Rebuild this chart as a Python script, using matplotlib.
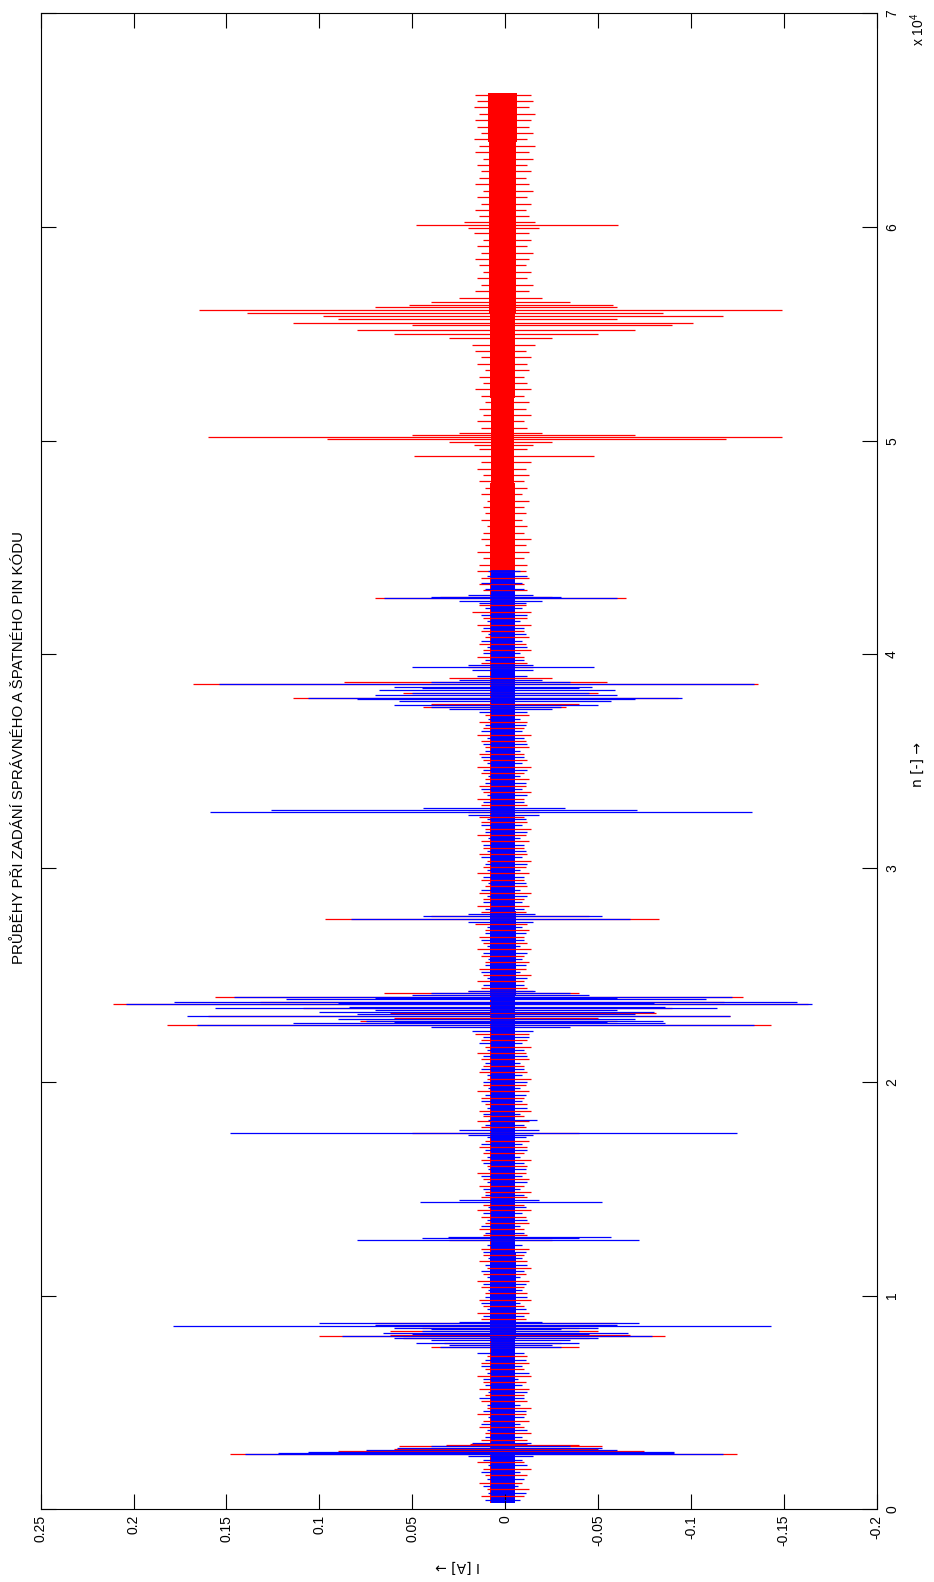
import matplotlib
matplotlib.use("Agg")
import matplotlib.pyplot as plt

plt.rcParams["font.family"] = ["Liberation Sans", "DejaVu Sans"]
plt.rcParams["mathtext.default"] = "regular"

RED = "#ff0000"
BLUE = "#0000ff"

# axis ticks
i_ticks = [0.25, 0.2, 0.15, 0.1, 0.05, 0.0, -0.05, -0.1, -0.15, -0.2]
i_tick_labels = ["0.25", "0.2", "0.15", "0.1", "0.05", "0", "-0.05", "-0.1", "-0.15", "-0.2"]
n_ticks = [0, 10000, 20000, 30000, 40000, 50000, 60000, 70000]
n_tick_labels = ["0", "1", "2", "3", "4", "5", "6", "7"]

# solid core of each trace: knots along n with the upper / lower edge in A
blue_core_n = [300, 4000, 8000, 12000, 16000, 20000, 24000, 28000, 32000, 36000, 40000, 43950]
blue_core_hi = [0.0075, 0.0075, 0.008, 0.0075, 0.0075, 0.0075, 0.008, 0.0075, 0.0075, 0.0075, 0.0075, 0.0075]
blue_core_lo = [-0.0055, -0.0055, -0.006, -0.0055, -0.0055, -0.0055, -0.006, -0.0055, -0.0055, -0.0055, -0.0055, -0.0055]

red_core_n = [300, 8000, 16000, 24000, 32000, 40000, 44000, 48000, 52000, 56000, 60000, 64000, 66270]
red_core_hi = [0.008, 0.008, 0.008, 0.008, 0.008, 0.008, 0.008, 0.0075, 0.008, 0.0085, 0.0085, 0.009, 0.009]
red_core_lo = [-0.0055, -0.0055, -0.0055, -0.0055, -0.0055, -0.0055, -0.0055, -0.005, -0.0055, -0.006, -0.006, -0.0065, -0.0065]

# single swings of the correct-PIN record (blue): sample, max, min
blue_swing_n = [
    450, 780, 1100, 1400, 1750, 2050, 2300,
    2480, 2586, 2640, 2700, 2760, 2850, 2960, 3080,
    3400, 3700, 4000, 4300, 4600, 4900, 5200, 5500, 5800, 6100, 6400, 6700, 7000, 7300,
    7580, 7700, 7796, 7900, 8000, 8108, 8200, 8264, 8342, 8420, 8467, 8576, 8640, 8701, 8780,
    9050, 9350, 9650, 9950, 10250, 10550, 10850, 11150, 11450, 11750, 12050, 12350,
    12601, 12680, 12726,
    12950, 13250, 13550, 13850, 14150,
    14380, 14470,
    14700, 15000, 15300, 15600, 15900, 16200, 16500, 16800, 17100, 17400,
    17520, 17624, 17750,
    18000, 18217, 18500, 18800, 19100, 19400, 19700, 20000, 20300, 20600, 20900, 21200, 21500, 21800, 22100, 22400,
    22585, 22663, 22741, 22800, 22866, 22950, 23084, 23170, 23256, 23350, 23443, 23521, 23630, 23700, 23755,
    23861, 23930, 23986, 24060, 24142, 24250,
    24550, 24850, 25150, 25450, 25750, 26050, 26350, 26650, 26950, 27250,
    27500, 27605, 27761, 27850,
    28100, 28400, 28700, 29000, 29300, 29600, 29900, 30200, 30500, 30800, 31100, 31400, 31700, 32000, 32300,
    32500, 32613, 32722, 32800,
    33100, 33400, 33700, 34000, 34300, 34600, 34900, 35200, 35500, 35800, 36100, 36400, 36700, 37000, 37300,
    37450, 37558, 37650, 37823, 37900, 37979, 38080, 38200, 38338, 38420, 38494, 38619, 38700, 38800, 39000,
    39250, 39399, 39500,
    39750, 40050, 40350, 40650, 40950, 41250, 41550, 41850, 42150, 42400,
    42520, 42628, 42700, 42780,
    43050, 43350, 43650, 43900,
]
blue_swing_hi = [
    0.011, 0.009, 0.012, 0.010, 0.013, 0.009, 0.012,
    0.020, 0.140, 0.122, 0.106, 0.075, 0.058, 0.040, 0.018,
    0.011, 0.010, 0.013, 0.009, 0.012, 0.010, 0.014, 0.009, 0.011, 0.012, 0.010, 0.013, 0.011, 0.015,
    0.035, 0.030, 0.048, 0.040, 0.060, 0.088, 0.050, 0.066, 0.045, 0.040, 0.060, 0.179, 0.070, 0.100, 0.025,
    0.012, 0.010, 0.013, 0.011, 0.009, 0.012, 0.010, 0.013, 0.011, 0.009, 0.012, 0.010,
    0.080, 0.045, 0.031,
    0.011, 0.013, 0.010, 0.012, 0.009,
    0.046, 0.025,
    0.011, 0.012, 0.010, 0.013, 0.009, 0.012, 0.010, 0.011, 0.013, 0.010,
    0.020, 0.148, 0.025,
    0.011, 0.009, 0.012, 0.010, 0.013, 0.011, 0.009, 0.012, 0.010, 0.013, 0.011, 0.012, 0.010, 0.014, 0.012, 0.018,
    0.040, 0.166, 0.114, 0.060, 0.075, 0.090, 0.171, 0.080, 0.100, 0.070, 0.156, 0.084, 0.204, 0.090, 0.178,
    0.118, 0.070, 0.146, 0.050, 0.040, 0.020,
    0.012, 0.010, 0.013, 0.011, 0.009, 0.012, 0.010, 0.013, 0.011, 0.010,
    0.020, 0.083, 0.044, 0.020,
    0.011, 0.012, 0.010, 0.013, 0.009, 0.012, 0.010, 0.011, 0.013, 0.010, 0.012, 0.009, 0.011, 0.013, 0.010,
    0.020, 0.159, 0.126, 0.044,
    0.012, 0.010, 0.013, 0.011, 0.009, 0.012, 0.010, 0.013, 0.011, 0.012, 0.010, 0.013, 0.011, 0.009, 0.014,
    0.030, 0.040, 0.060, 0.057, 0.080, 0.106, 0.070, 0.050, 0.068, 0.045, 0.060, 0.154, 0.040, 0.025, 0.015,
    0.018, 0.050, 0.020,
    0.011, 0.012, 0.010, 0.013, 0.009, 0.012, 0.010, 0.013, 0.011, 0.014,
    0.025, 0.065, 0.040, 0.020,
    0.011, 0.013, 0.010, 0.009,
]
blue_swing_lo = [
    -0.008, -0.011, -0.007, -0.010, -0.008, -0.012, -0.009,
    -0.015, -0.117, -0.091, -0.091, -0.060, -0.052, -0.035, -0.014,
    -0.009, -0.012, -0.008, -0.010, -0.011, -0.008, -0.010, -0.012, -0.009, -0.007, -0.013, -0.009, -0.011, -0.010,
    -0.030, -0.025, -0.040, -0.035, -0.050, -0.079, -0.045, -0.066, -0.040, -0.030, -0.050, -0.143, -0.060, -0.072, -0.020,
    -0.010, -0.011, -0.008, -0.012, -0.009, -0.011, -0.008, -0.010, -0.012, -0.009, -0.011, -0.009,
    -0.072, -0.040, -0.057,
    -0.010, -0.008, -0.012, -0.009, -0.011,
    -0.052, -0.018,
    -0.010, -0.008, -0.012, -0.009, -0.011, -0.010, -0.008, -0.012, -0.009, -0.011,
    -0.015, -0.125, -0.018,
    -0.010, -0.017, -0.008, -0.012, -0.009, -0.011, -0.008, -0.012, -0.009, -0.010, -0.008, -0.012, -0.010, -0.009, -0.013, -0.015,
    -0.035, -0.134, -0.086, -0.055, -0.085, -0.070, -0.121, -0.070, -0.080, -0.060, -0.114, -0.086, -0.165, -0.080, -0.157,
    -0.108, -0.060, -0.122, -0.045, -0.035, -0.016,
    -0.010, -0.012, -0.008, -0.011, -0.009, -0.012, -0.008, -0.010, -0.011, -0.009,
    -0.015, -0.067, -0.052, -0.016,
    -0.010, -0.009, -0.012, -0.008, -0.011, -0.010, -0.008, -0.012, -0.009, -0.011, -0.010, -0.008, -0.012, -0.009, -0.011,
    -0.018, -0.133, -0.071, -0.032,
    -0.010, -0.012, -0.009, -0.011, -0.008, -0.012, -0.009, -0.010, -0.008, -0.012, -0.010, -0.009, -0.011, -0.008, -0.012,
    -0.025, -0.030, -0.050, -0.057, -0.070, -0.095, -0.060, -0.045, -0.059, -0.040, -0.047, -0.134, -0.035, -0.020, -0.012,
    -0.015, -0.048, -0.015,
    -0.010, -0.008, -0.012, -0.009, -0.011, -0.010, -0.008, -0.012, -0.009, -0.011,
    -0.020, -0.060, -0.030, -0.015,
    -0.010, -0.009, -0.012, -0.008,
]

# single swings of the wrong-PIN record (red): sample, max, min
red_swing_n = [
    600, 950, 1250, 1600, 1900, 2200,
    2586, 2650, 2720, 2800, 2960, 3000, 3050,
    3250, 3550, 3850, 4150, 4450, 4750, 5050, 5350, 5650, 5950, 6250, 6550, 6850, 7150,
    7578, 7796, 8000, 8108, 8150, 8342, 8500, 8600, 8701,
    8900, 9200, 9500, 9800, 10100, 10400, 10700, 11000, 11300, 11600, 11900, 12200,
    12620,
    12850, 13100, 13400, 13700, 14000, 14250,
    14600, 14850, 15150, 15450, 15750, 16050, 16350, 16650, 16950, 17250,
    17610,
    17900, 18150, 18400, 18650, 18950, 19250, 19550, 19850, 20150, 20450, 20750, 21050, 21350, 21650, 21950, 22250,
    22663, 22866, 23000, 23084, 23200, 23443, 23630, 23755, 23986, 24142, 24250,
    24400, 24700, 25000, 25300, 25600, 25900, 26200, 26500, 26800, 27100, 27400,
    27605, 27761,
    27950, 28250, 28550, 28850, 29150, 29450, 29750, 30050, 30350, 30650, 30950, 31250, 31550, 31850, 32150, 32400,
    32650,
    32950, 33250, 33550, 33850, 34150, 34450, 34750, 35050, 35350, 35650, 35950, 36250, 36550, 36850, 37150,
    37558, 37700, 37979, 38200, 38619, 38728, 38900, 39400,
    39600, 39900, 40200, 40500, 40800, 41100, 41400, 41700, 42004, 42300,
    42628, 42700,
    43018, 43300, 43600, 43900,
    44200, 44500, 44800, 45100, 45400, 45700, 46000, 46300, 46600, 46900, 47200, 47500, 47800, 48100, 48400,
    48700, 49000, 49300, 49600, 49800,
    49950, 50100, 50192, 50260, 50350,
    50600, 50900, 51200, 51500, 51800, 52100, 52400, 52700, 53000, 53300, 53600, 53900, 54200, 54500,
    54800, 55000, 55200, 55400, 55529, 55700, 55857, 56000, 56140, 56250, 56329, 56500, 56700,
    57000, 57300, 57600, 57900, 58200, 58500, 58800, 59100, 59400, 59700, 59950,
    60103, 60250,
    60500, 60800, 61100, 61400, 61700, 62000, 62300, 62600, 62900, 63200, 63500, 63800, 64100, 64400, 64700,
    65000, 65300, 65600, 65900, 66200,
]
red_swing_hi = [
    0.013, 0.010, 0.014, 0.011, 0.012, 0.015,
    0.148, 0.100, 0.090, 0.060, 0.057, 0.032, 0.019,
    0.013, 0.011, 0.014, 0.012, 0.015, 0.010, 0.013, 0.011, 0.014, 0.012, 0.015, 0.011, 0.013, 0.010,
    0.040, 0.033, 0.055, 0.100, 0.062, 0.062, 0.045, 0.060, 0.070,
    0.013, 0.015, 0.012, 0.014, 0.011, 0.013, 0.015, 0.012, 0.010, 0.014, 0.012, 0.013,
    0.030,
    0.012, 0.014, 0.011, 0.013, 0.015, 0.012,
    0.013, 0.011, 0.014, 0.012, 0.015, 0.010, 0.013, 0.012, 0.014, 0.011,
    0.050,
    0.013, 0.015, 0.012, 0.014, 0.011, 0.013, 0.015, 0.012, 0.010, 0.014, 0.012, 0.013, 0.015, 0.011, 0.013, 0.016,
    0.182, 0.078, 0.060, 0.160, 0.062, 0.109, 0.211, 0.132, 0.156, 0.065, 0.020,
    0.013, 0.015, 0.012, 0.014, 0.011, 0.013, 0.015, 0.012, 0.014, 0.011, 0.016,
    0.097, 0.040,
    0.013, 0.015, 0.012, 0.014, 0.011, 0.013, 0.015, 0.012, 0.010, 0.014, 0.012, 0.013, 0.015, 0.011, 0.013, 0.014,
    0.020,
    0.013, 0.015, 0.012, 0.014, 0.011, 0.013, 0.015, 0.012, 0.014, 0.011, 0.013, 0.015, 0.012, 0.014, 0.011,
    0.044, 0.040, 0.114, 0.055, 0.168, 0.087, 0.030, 0.020,
    0.013, 0.015, 0.012, 0.014, 0.011, 0.013, 0.015, 0.012, 0.018, 0.014,
    0.070, 0.035,
    0.012, 0.014, 0.013, 0.015,
    0.014, 0.012, 0.015, 0.011, 0.013, 0.012, 0.010, 0.013, 0.011, 0.012, 0.010, 0.013, 0.011, 0.014, 0.012,
    0.015, 0.013, 0.049, 0.014, 0.017,
    0.030, 0.096, 0.160, 0.050, 0.025,
    0.013, 0.015, 0.012, 0.014, 0.011, 0.013, 0.016, 0.012, 0.014, 0.011, 0.015, 0.013, 0.016, 0.018,
    0.030, 0.060, 0.080, 0.050, 0.114, 0.090, 0.098, 0.139, 0.165, 0.070, 0.052, 0.040, 0.025,
    0.016, 0.013, 0.015, 0.012, 0.014, 0.016, 0.013, 0.015, 0.012, 0.017, 0.020,
    0.048, 0.022,
    0.014, 0.016, 0.013, 0.015, 0.012, 0.016, 0.014, 0.013, 0.015, 0.012, 0.016, 0.014, 0.017, 0.013, 0.015,
    0.016, 0.014, 0.017, 0.015, 0.016,
]
red_swing_lo = [
    -0.010, -0.013, -0.009, -0.012, -0.014, -0.010,
    -0.125, -0.080, -0.075, -0.050, -0.052, -0.040, -0.012,
    -0.012, -0.014, -0.010, -0.013, -0.011, -0.014, -0.012, -0.010, -0.013, -0.011, -0.014, -0.010, -0.013, -0.012,
    -0.040, -0.030, -0.045, -0.086, -0.067, -0.050, -0.040, -0.050, -0.060,
    -0.011, -0.013, -0.010, -0.014, -0.012, -0.010, -0.013, -0.011, -0.014, -0.012, -0.010, -0.013,
    -0.025,
    -0.012, -0.010, -0.013, -0.011, -0.014, -0.010,
    -0.012, -0.014, -0.010, -0.013, -0.011, -0.012, -0.014, -0.010, -0.012, -0.013,
    -0.040,
    -0.011, -0.013, -0.010, -0.014, -0.012, -0.010, -0.013, -0.011, -0.014, -0.012, -0.010, -0.013, -0.011, -0.014, -0.012, -0.013,
    -0.143, -0.060, -0.050, -0.121, -0.081, -0.090, -0.163, -0.118, -0.128, -0.040, -0.015,
    -0.012, -0.010, -0.014, -0.011, -0.013, -0.010, -0.014, -0.012, -0.010, -0.013, -0.012,
    -0.083, -0.045,
    -0.011, -0.013, -0.010, -0.014, -0.012, -0.010, -0.013, -0.011, -0.014, -0.012, -0.010, -0.013, -0.011, -0.014, -0.012, -0.010,
    -0.018,
    -0.012, -0.010, -0.014, -0.011, -0.013, -0.010, -0.014, -0.012, -0.010, -0.013, -0.011, -0.014, -0.010, -0.012, -0.013,
    -0.033, -0.040, -0.093, -0.050, -0.136, -0.055, -0.025, -0.015,
    -0.012, -0.010, -0.014, -0.011, -0.013, -0.010, -0.014, -0.012, -0.014, -0.011,
    -0.065, -0.025,
    -0.012, -0.010, -0.013, -0.011,
    -0.012, -0.010, -0.013, -0.011, -0.014, -0.010, -0.012, -0.009, -0.011, -0.010, -0.013, -0.009, -0.012, -0.010, -0.013,
    -0.011, -0.014, -0.048, -0.012, -0.015,
    -0.025, -0.119, -0.149, -0.070, -0.020,
    -0.012, -0.010, -0.014, -0.011, -0.013, -0.010, -0.014, -0.012, -0.010, -0.013, -0.012, -0.014, -0.011, -0.016,
    -0.025, -0.050, -0.070, -0.090, -0.101, -0.060, -0.117, -0.085, -0.149, -0.060, -0.058, -0.035, -0.020,
    -0.013, -0.015, -0.012, -0.014, -0.011, -0.013, -0.015, -0.012, -0.014, -0.013, -0.018,
    -0.061, -0.016,
    -0.013, -0.011, -0.014, -0.012, -0.015, -0.013, -0.011, -0.014, -0.012, -0.015, -0.013, -0.016, -0.012, -0.015, -0.013,
    -0.014, -0.016, -0.013, -0.015, -0.014,
]


def draw_trace(ax, core_n, core_hi, core_lo, swing_n, swing_hi, swing_lo, color):
    ax.fill_betweenx(core_n, core_lo, core_hi, step="post", color=color, linewidth=0)
    ax.hlines(swing_n, swing_lo, swing_hi, colors=color, linewidth=0.9)


fig = plt.figure(figsize=(9.34, 15.82), dpi=100)
W, H = 934.0, 1582.0
left, right, top, bottom = 40.7, 876.7, 13.3, 1509.3
ax = fig.add_axes([left / W, 1 - bottom / H, (right - left) / W, (bottom - top) / H])

draw_trace(ax, red_core_n, red_core_hi, red_core_lo, red_swing_n, red_swing_hi, red_swing_lo, RED)
draw_trace(ax, blue_core_n, blue_core_hi, blue_core_lo, blue_swing_n, blue_swing_hi, blue_swing_lo, BLUE)

ax.set_xlim(0.25, -0.2)
ax.set_ylim(0, 70000)
ax.set_xticks(i_ticks)
ax.set_xticklabels(i_tick_labels, rotation=90, fontsize=10)
ax.set_yticks(n_ticks)
ax.set_yticklabels(n_tick_labels, rotation=90, fontsize=10, va="center")
ax.tick_params(axis="both", direction="in", length=10.8, width=0.8,
               top=True, bottom=True, left=True, right=True)
ax.tick_params(axis="x", pad=4)
ax.tick_params(axis="y", labelleft=False, labelright=True, pad=6)
for spine in ax.spines.values():
    spine.set_linewidth(0.8)

fig.text(19 / W, 1 - 748 / H, "PRŮBĚHY PŘI ZADÁNÍ SPRÁVNÉHO A ŠPATNÉHO PIN KÓDU",
         rotation=90, ha="center", va="center", fontsize=10.8)
# arrows come from DejaVu, the Liberation glyph is too short
fig.text(458 / W, 1 - 1566 / H, "I [A] →", rotation=180, ha="center", va="center",
         fontsize=10, family=["DejaVu Sans"])
fig.text(918 / W, 1 - 764 / H, "n [-] →", rotation=90, ha="center", va="center",
         fontsize=10, family=["DejaVu Sans"])
fig.text(918 / W, 1 - 13 / H, r"x 10$^{4}$", rotation=90, ha="center", va="top", fontsize=10)

fig.savefig("out.png", dpi=100)
